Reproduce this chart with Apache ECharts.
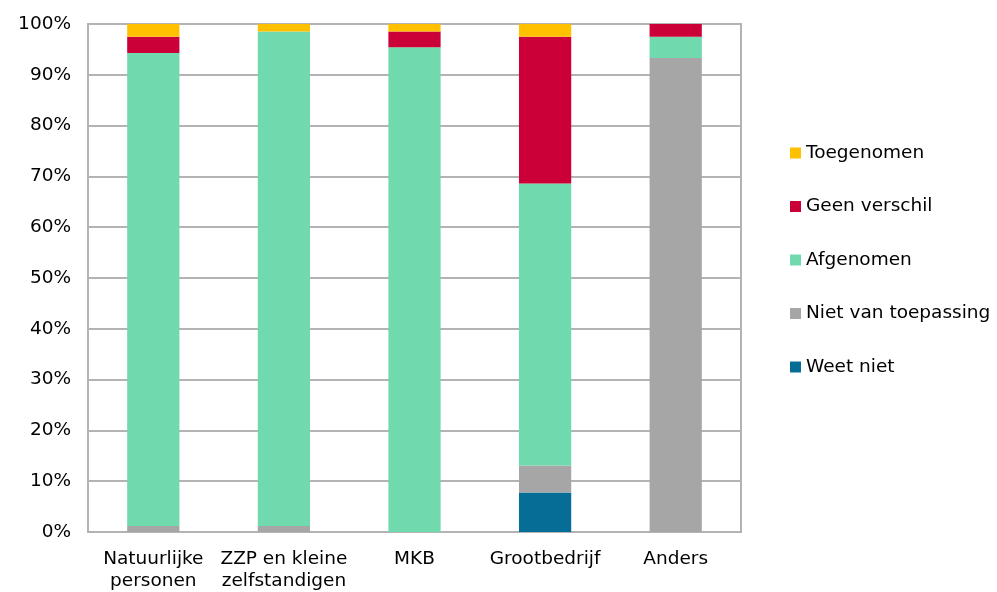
<!DOCTYPE html>
<html><head><meta charset="utf-8">
<script src="https://cdn.jsdelivr.net/npm/echarts@6/dist/echarts.min.js"></script>
<style>html,body{margin:0;padding:0;background:#fff}#c{width:997px;height:592px}</style>
</head><body><div id="c"></div>
<script>
var categories = ["Natuurlijke\npersonen", "ZZP en kleine\nzelfstandigen", "MKB", "Grootbedrijf", "Anders"];
var weetNiet = [0, 0, 0, 7.8, 0];
var nietVanToepassing = [1.2, 1.2, 0, 5.3, 93.3];
var afgenomen = [93.1, 97.3, 95.4, 55.5, 4.2];
var geenVerschil = [3.2, 0, 3.1, 28.9, 2.5];
var toegenomen = [2.5, 1.5, 1.5, 2.5, 0];
var yTicks = [0, 10, 20, 30, 40, 50, 60, 70, 80, 90, 100];

var seriesDefs = [
  {name: "Weet niet", data: weetNiet, color: "#066E96"},
  {name: "Niet van toepassing", data: nietVanToepassing, color: "#A6A6A6"},
  {name: "Afgenomen", data: afgenomen, color: "#70D9AE"},
  {name: "Geen verschil", data: geenVerschil, color: "#CC0038"},
  {name: "Toegenomen", data: toegenomen, color: "#FFC000"}
];
var font = "DejaVu Sans";
var chart = echarts.init(document.getElementById('c'));
chart.setOption({
  animation: false,
  textStyle: {fontFamily: font},
  grid: {left: 88, right: 256, top: 24, bottom: 58, show: true, borderColor: '#B3B3B3', borderWidth: 2, containLabel: false},
  legend: {
    orient: 'vertical', left: 785, top: 138, itemGap: 33.5, itemWidth: 11, itemHeight: 11, icon: 'rect',
    data: seriesDefs.map(function(s){return s.name;}).reverse(),
    textStyle: {fontFamily: font, fontSize: 18.5, lineHeight: 20, color: '#000', padding: [0, 0, 0, 0]}
  },
  xAxis: {
    type: 'category', data: categories,
    axisLine: {lineStyle: {color: '#B3B3B3', width: 2}},
    axisTick: {show: false},
    axisLabel: {color: '#000', fontSize: 18.5, fontFamily: font, margin: 16, lineHeight: 22, interval: 0}
  },
  yAxis: {
    type: 'value', min: yTicks[0], max: yTicks[yTicks.length-1], interval: 10,
    axisLine: {show: true, lineStyle: {color: '#B3B3B3', width: 2}},
    axisTick: {show: false},
    splitLine: {lineStyle: {color: '#B3B3B3', width: 2}},
    axisLabel: {color: '#000', fontSize: 18.5, fontFamily: font, margin: 17, formatter: '{value}%'}
  },
  series: seriesDefs.map(function(s){
    return {name: s.name, type: 'bar', stack: 'a', data: s.data, barWidth: '40%',
      itemStyle: {color: s.color}};
  })
});
</script></body></html>
